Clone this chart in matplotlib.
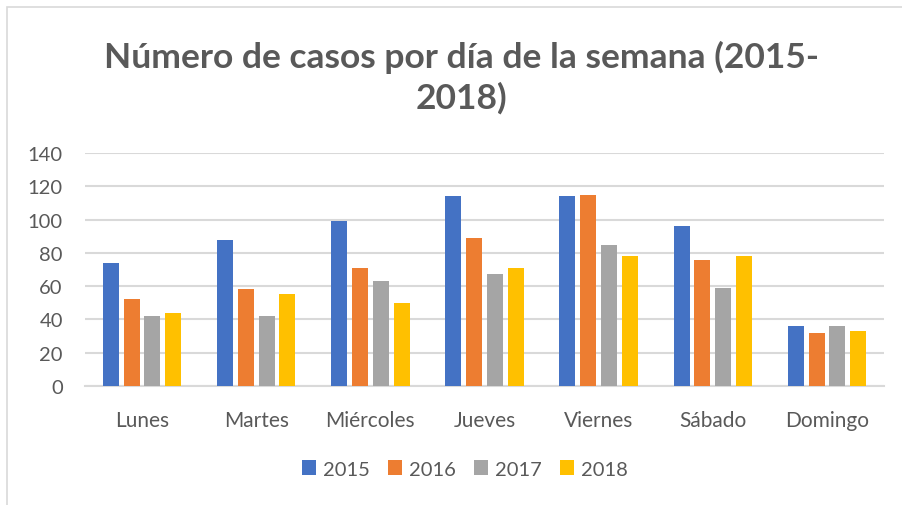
import matplotlib

matplotlib.use("Agg")
import matplotlib.pyplot as plt
import numpy as np
from matplotlib.patches import Patch, Rectangle

dias = ["Lunes", "Martes", "Miércoles", "Jueves", "Viernes", "Sábado", "Domingo"]
anios = ["2015", "2016", "2017", "2018"]
casos_2015 = [74, 88, 99, 114, 114, 96, 36]
casos_2016 = [52, 58, 71, 89, 115, 76, 32]
casos_2017 = [42, 42, 63, 67, 85, 59, 36]
casos_2018 = [44, 55, 50, 71, 78, 78, 33]
colores = ["#4472C4", "#ED7D31", "#A5A5A5", "#FFC000"]

plt.rcParams["font.family"] = ["Lato", "DejaVu Sans"]
texto = "#595959"
grid = "#D9D9D9"

fig = plt.figure(figsize=(9.02, 5.06), dpi=100)
ax = fig.add_axes([85 / 902, 1 - 387 / 506, 799 / 902, 233 / 506])

x = np.arange(len(dias))
paso = 0.182
ancho = 0.14
series = [casos_2015, casos_2016, casos_2017, casos_2018]
for i, (vals, col) in enumerate(zip(series, colores)):
    ax.bar(x + (i - 1.5) * paso, vals, width=ancho, color=col, zorder=3)

ax.set_xlim(-0.5, len(dias) - 0.5)
ax.set_ylim(0, 140)
ax.set_yticks(range(0, 141, 20))
ax.yaxis.grid(True, color=grid, linewidth=1.5, zorder=0)
ax.set_xticks(x)
ax.set_xticklabels(dias)
ax.tick_params(axis="both", length=0, labelcolor=texto)
ax.tick_params(axis="y", pad=16, labelsize=14.5)
ax.tick_params(axis="x", pad=17, labelsize=15)
for s in ["top", "right", "left"]:
    ax.spines[s].set_visible(False)
ax.spines["bottom"].set_color(grid)
ax.spines["bottom"].set_linewidth(1.5)

fig.text(461 / 902, 1 - 78 / 506, "Número de casos por día de la semana (2015-\n2018)",
         ha="center", va="center", fontsize=25.5, fontweight="bold", color=texto,
         linespacing=1.3)

handles = [Patch(facecolor=c, label=a) for a, c in zip(anios, colores)]
fig.legend(handles=handles, loc="center", bbox_to_anchor=(465 / 902, 1 - 470 / 506),
           ncol=4, frameon=False, fontsize=14.5, labelcolor=texto,
           handlelength=0.7, handleheight=0.7, handletextpad=0.35, columnspacing=0.9)

fig.patches.append(Rectangle((7, -10), 1000, 506 - 8 + 10, transform=None,
                             fill=False, edgecolor=grid, linewidth=1.2))

fig.savefig("out.png", dpi=100)
